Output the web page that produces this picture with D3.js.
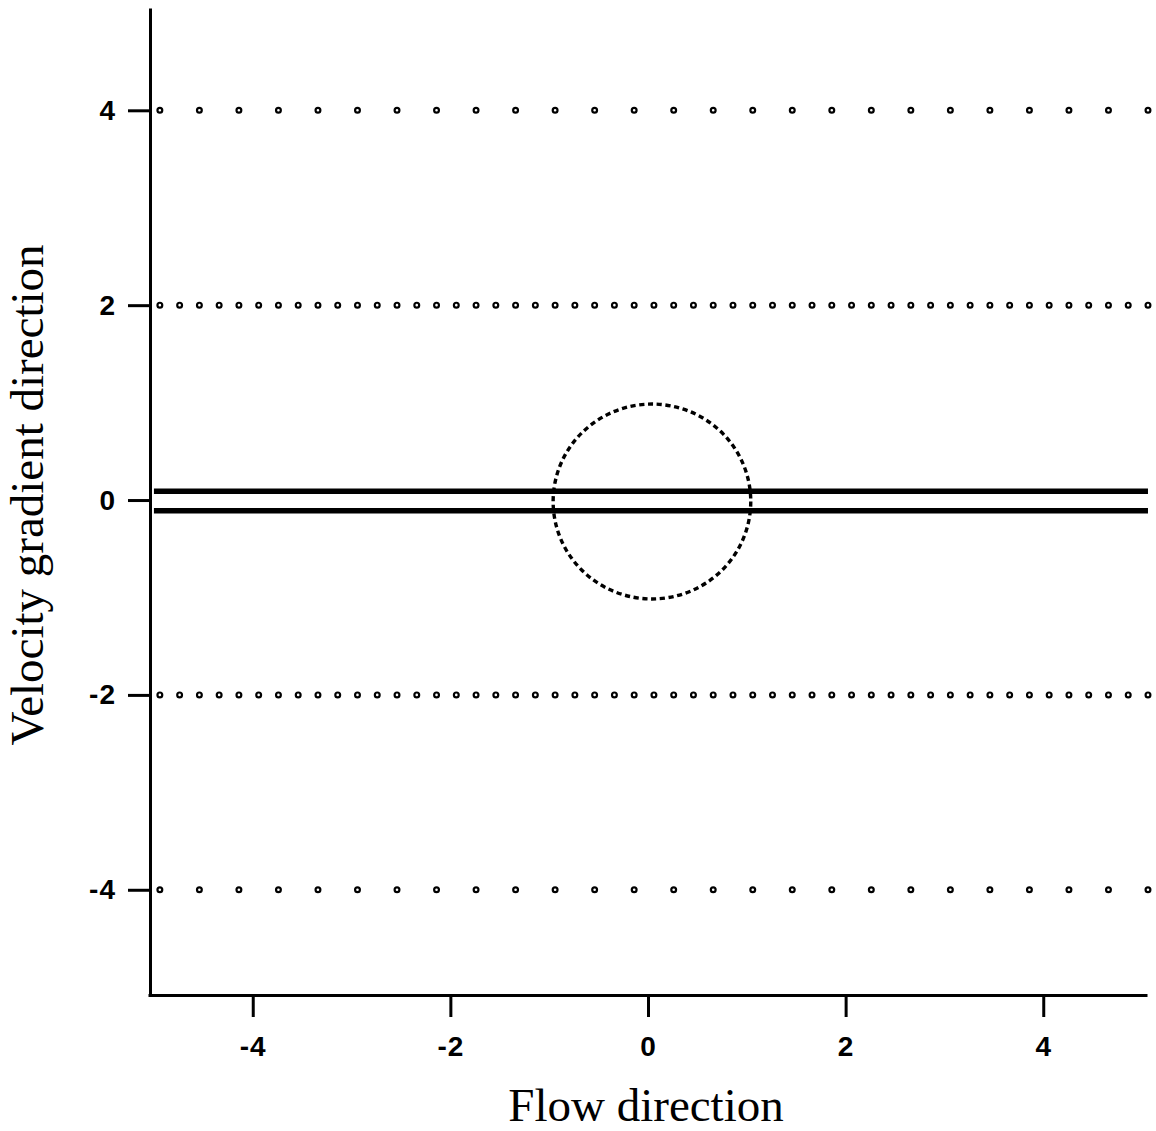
<!DOCTYPE html>
<html lang="en">
	<head>
		<meta charset="UTF-8">
		<title>Flow direction vs velocity gradient</title>
		<style>
			body, html {
				margin: 0;
				padding: 0;
				background-color: #ffffff;
			}
			svg { display: block; }
		</style>
	</head>
	<body>
		<svg id="svg" width="1156" height="1131"></svg>

		<script src="https://d3js.org/d3.v7.min.js"></script>
		<script>
			// tick values on both axes
			const xTicks = [-4, -2, 0, 2, 4]
			const yTicks = [-4, -2, 0, 2, 4]

			// tracer rows (y) and the x positions of the markers on them
			const sparseRowsY = [4, -4]
			const denseRowsY = [2, -2]
			const sparseX = [-4.94, -4.54, -4.14, -3.74, -3.34, -2.94, -2.54, -2.14, -1.74, -1.34,
				-0.94, -0.54, -0.14, 0.26, 0.66, 1.06, 1.46, 1.86, 2.26, 2.66,
				3.06, 3.46, 3.86, 4.26, 4.66, 5.06]
			const denseX = [-4.94, -4.74, -4.54, -4.34, -4.14, -3.94, -3.74, -3.54, -3.34, -3.14,
				-2.94, -2.74, -2.54, -2.34, -2.14, -1.94, -1.74, -1.54, -1.34, -1.14,
				-0.94, -0.74, -0.54, -0.34, -0.14, 0.06, 0.26, 0.46, 0.66, 0.86,
				1.06, 1.26, 1.46, 1.66, 1.86, 2.06, 2.26, 2.46, 2.66, 2.86,
				3.06, 3.26, 3.46, 3.66, 3.86, 4.06, 4.26, 4.46, 4.66, 4.86, 5.06]

			// the two solid walls
			const wallY = [0.09, -0.11]
			const wallX = [-5.0, 5.06]

			// dashed circle
			const circleCx = 0.04
			const circleCy = -0.015
			const circleR = 1

			const svg = d3.select('#svg')

			const x = d3.scaleLinear().domain([-5.06, 5.05]).range([148, 1147])
			const y = d3.scaleLinear().domain([-5.08, 5.05]).range([995, 8])

			// markers
			const pts = []
			sparseRowsY.forEach(ry => sparseX.forEach(px => pts.push([px, ry])))
			denseRowsY.forEach(ry => denseX.forEach(px => pts.push([px, ry])))

			svg.append('g')
				.selectAll('circle')
				.data(pts)
				.enter()
				.append('circle')
				.attr('cx', d => x(d[0]))
				.attr('cy', d => y(d[1]))
				.attr('r', 2.4)
				.attr('fill', 'white')
				.attr('stroke', '#000')
				.attr('stroke-width', 2.2)

			// walls
			svg.append('g')
				.selectAll('line')
				.data(wallY)
				.enter()
				.append('line')
				.attr('x1', x(wallX[0]))
				.attr('x2', x(wallX[1]))
				.attr('y1', d => y(d))
				.attr('y2', d => y(d))
				.attr('stroke', '#000')
				.attr('stroke-width', 5.5)

			// dashed circle
			svg.append('ellipse')
				.attr('cx', x(circleCx))
				.attr('cy', y(circleCy))
				.attr('rx', x(circleR) - x(0))
				.attr('ry', y(0) - y(circleR))
				.attr('fill', 'none')
				.attr('stroke', '#000')
				.attr('stroke-width', 3.4)
				.attr('stroke-dasharray', '5.2,3.6')

			// axes
			const fmt = d => String(d).replace('\u2212', '-')
			const yAxis = svg.append('g')
				.attr('transform', 'translate(150,0)')
				.call(d3.axisLeft(y).tickValues(yTicks).tickSize(22).tickSizeOuter(0).tickPadding(12).tickFormat(fmt))
			const xAxis = svg.append('g')
				.attr('transform', 'translate(0,995)')
				.call(d3.axisBottom(x).tickValues(xTicks).tickSize(22).tickSizeOuter(0).tickPadding(19).tickFormat(fmt))

			;[yAxis, xAxis].forEach(g => {
				g.select('.domain').attr('stroke-width', 3).attr('stroke', '#000')
				g.selectAll('.tick line').attr('stroke-width', 3).attr('stroke', '#000')
				g.selectAll('.tick text')
					.attr('fill', '#000')
					.style('font-size', '28px')
					.style('font-weight', 'bold')
					.style('letter-spacing', '1px')
					.style('font-family', '"Liberation Sans", Arial, sans-serif')
			})

			// axis titles
			svg.append('text')
				.attr('x', 646)
				.attr('y', 1121)
				.attr('text-anchor', 'middle')
				.style('font-family', '"Liberation Serif", "Times New Roman", serif')
				.style('font-size', '47px')
				.text('Flow direction')

			svg.append('text')
				.attr('transform', 'translate(43,495) rotate(-90)')
				.attr('text-anchor', 'middle')
				.style('font-family', '"Liberation Serif", "Times New Roman", serif')
				.style('font-size', '47px')
				.text('Velocity gradient direction')
		</script>
	</body>
</html>
